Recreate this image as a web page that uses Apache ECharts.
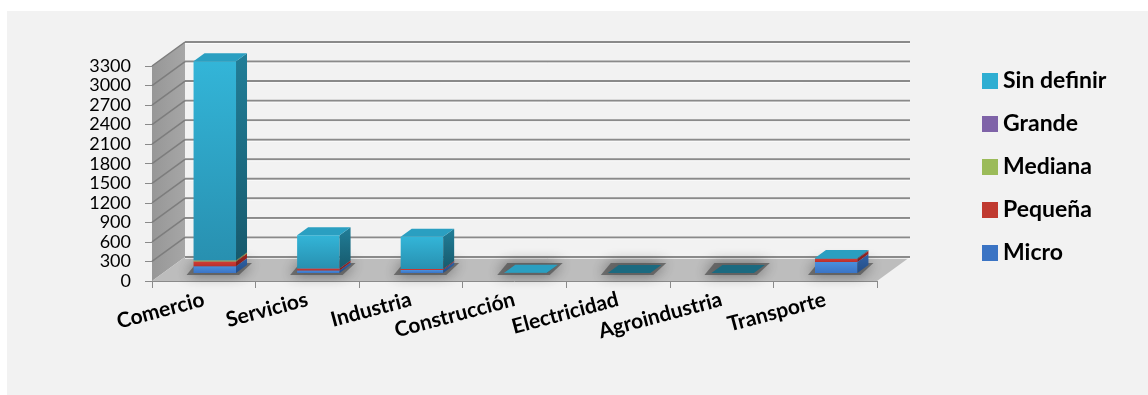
<!DOCTYPE html>
<html>
<head>
<meta charset="utf-8">
<script src="https://cdn.jsdelivr.net/npm/echarts@6/dist/echarts.min.js"></script>
<style>
html,body{margin:0;padding:0;background:#ffffff;}
#c{width:1148px;height:395px;}
</style>
</head>
<body>
<div id="c"></div>
<script>
// ---------- data ----------
const categories = ['Comercio', 'Servicios', 'Industria', 'Construcción', 'Electricidad', 'Agroindustria', 'Transporte'];
const micro      = [105, 40, 45, 0, 0, 0, 170];
const pequena    = [70, 30, 15, 0, 0, 0, 50];
const mediana    = [15, 0, 0, 0, 0, 0, 0];
const grande     = [0, 0, 0, 0, 0, 0, 0];
const sinDefinir = [3060, 510, 495, 3, 0, 0, 10];
const yMin = 0, yMax = 3300, yStep = 300;
const seriesNames = ['Micro', 'Pequeña', 'Mediana', 'Grande', 'Sin definir'];
const legendOrder = ['Sin definir', 'Grande', 'Mediana', 'Pequeña', 'Micro'];

// ---------- styling ----------
const FONT = 'Lato, "Open Sans", sans-serif';
const DX = 33, DY = -24;          // depth of the floor / walls
const BAR_OFF = 1 / 3, BAR_DEPTH = 1 / 3, BAR_W = 0.41;
const grad = (a, b) => new echarts.graphic.LinearGradient(0, 0, 0, 1, [{offset: 0, color: a}, {offset: 1, color: b}]);
const styles = {
  'Micro':       {front: ['#4b8fdc', '#3a74c6'], side: ['#2f62a6', '#244d86'], top: '#4f93df', legend: '#3b74c4'},
  'Pequeña':     {front: ['#d23b36', '#b8302c'], side: ['#9c2622', '#7e1e1b'], top: '#d9504a', legend: '#c0392f'},
  'Mediana':     {front: ['#a5c663', '#8eac4f'], side: ['#76903f', '#627a33'], top: '#b0d070', legend: '#9bbb59'},
  'Grande':      {front: ['#8a6eb0', '#735a98'], side: ['#5f4a7e', '#4d3c67'], top: '#977cbd', legend: '#7f63a8'},
  'Sin definir': {front: ['#33b5d8', '#2890b0'], side: ['#217e98', '#175a6d'], top: '#2a9fc1', legend: '#2eaed2'}
};
const seriesValues = [micro, pequena, mediana, grande, sinDefinir];
const totals = categories.map((_, i) => seriesValues.reduce((s, arr) => s + arr[i], 0));

// ---------- decor (walls, floor, gridlines, shadows) ----------
function renderDecor(params, api) {
  const band = api.size([1, 0])[0];
  const x0 = api.coord([0, 0])[0] - band / 2;
  const x1 = api.coord([categories.length - 1, 0])[0] + band / 2;
  const yv = v => api.coord([0, v])[1];
  const y0 = yv(yMin), yT = yv(yMax);
  const ch = [];
  ch.push({type: 'polygon', shape: {points: [[x0, y0], [x0, yT], [x0 + DX, yT + DY], [x0 + DX, y0 + DY]]},
    style: {fill: new echarts.graphic.LinearGradient(0, 0, 1, 0, [{offset: 0, color: '#979797'}, {offset: 1, color: '#a6a6a6'}])}});
  ch.push({type: 'polygon', shape: {points: [[x0, y0], [x1, y0], [x1 + DX, y0 + DY], [x0 + DX, y0 + DY]]},
    style: {fill: '#bdbdbd'}});
  for (let v = yMin; v <= yMax + 1e-6; v += yStep) {
    const y = yv(v);
    ch.push({type: 'line', shape: {x1: x0 + DX, y1: y + DY, x2: x1 + DX, y2: y + DY},
      style: {stroke: '#8a8a8a', lineWidth: 2}});
    ch.push({type: 'line', shape: {x1: x0 + DX, y1: y + DY + 1.5, x2: x1 + DX, y2: y + DY + 1.5},
      style: {stroke: '#ffffff', lineWidth: 1, opacity: 0.7}});
    if (v > yMin) {
      ch.push({type: 'line', shape: {x1: x0, y1: y, x2: x0 + DX, y2: y + DY},
        style: {stroke: '#7d7d7d', lineWidth: 1.5}});
    }
  }
  // soft shadows on the floor under each bar
  for (let i = 0; i < categories.length; i++) {
    const c = api.coord([i, 0]);
    const w = band * BAR_W;
    const xl = c[0] + DX * BAR_OFF - w / 2, yb = c[1] + DY * BAR_OFF;
    const dx = DX * BAR_DEPTH, dy = DY * BAR_DEPTH;
    ch.push({type: 'polygon', shape: {points: [[xl - 7, yb + 2], [xl + w + 3, yb + 2], [xl + w + dx + 5, yb + dy - 2], [xl + dx - 8, yb + dy - 2]]},
      style: {fill: 'rgba(80,80,80,0.7)', shadowBlur: 14, shadowColor: 'rgba(40,40,40,0.85)'}});
  }
  return {type: 'group', children: ch};
}

// ---------- 3D-ish bar segments ----------
function makeRender(name, isTop) {
  const st = styles[name];
  return function (params, api) {
    const cat = api.value(0), base = api.value(1), val = api.value(2);
    const band = api.size([1, 0])[0];
    const w = band * BAR_W;
    const b = api.coord([cat, base]);
    const t = api.coord([cat, base + val]);
    const ox = DX * BAR_OFF, oy = DY * BAR_OFF, dx = DX * BAR_DEPTH, dy = DY * BAR_DEPTH;
    const xl = b[0] + ox - w / 2, xr = xl + w, yb = b[1] + oy, yt = t[1] + oy;
    const ch = [];
    if (val <= 0) {
      if (isTop && totals[cat] === 0) {
        ch.push({type: 'polygon', shape: {points: [[xl, yb], [xr, yb], [xr + dx, yb + dy], [xl + dx, yb + dy]]},
          style: {fill: '#1b6a80'}});
        return {type: 'group', children: ch};
      }
      return null;
    }
    ch.push({type: 'rect', shape: {x: xl, y: yt, width: w, height: yb - yt}, style: {fill: grad(st.front[0], st.front[1])}});
    ch.push({type: 'polygon', shape: {points: [[xr, yb], [xr, yt], [xr + dx, yt + dy], [xr + dx, yb + dy]]},
      style: {fill: grad(st.side[0], st.side[1])}});
    ch.push({type: 'polygon', shape: {points: [[xl, yt], [xr, yt], [xr + dx, yt + dy], [xl + dx, yt + dy]]},
      style: {fill: st.top}});
    return {type: 'group', children: ch};
  };
}

const cum = categories.map(() => 0);
const barSeries = seriesNames.map((name, k) => {
  const arr = seriesValues[k];
  const data = arr.map((v, i) => { const d = [i, cum[i], v]; cum[i] += v; return d; });
  return {
    name: name, type: 'custom', coordinateSystem: 'cartesian2d',
    renderItem: makeRender(name, k === seriesNames.length - 1),
    itemStyle: {color: styles[name].legend},
    encode: {x: 0, y: 2},
    data: data, z: 3
  };
});

const chart = echarts.init(document.getElementById('c'), null, {renderer: 'canvas'});
chart.setOption({
  animation: false,
  backgroundColor: '#ffffff',
  graphic: [{type: 'rect', left: 7, top: 11, shape: {width: 1141, height: 384}, style: {fill: '#f2f2f2'}, z: -10, silent: true}],
  grid: {left: 152, top: 66, width: 725, height: 215},
  xAxis: {
    type: 'category', data: categories,
    axisLine: {show: true, lineStyle: {color: '#8a8a8a', width: 1}},
    axisTick: {show: true, length: 7, lineStyle: {color: '#8a8a8a'}},
    axisLabel: {interval: 0, rotate: 15, margin: 18, fontFamily: FONT, fontWeight: 'bold', fontSize: 21, color: '#000'},
    splitLine: {show: false}
  },
  yAxis: {
    type: 'value', min: yMin, max: yMax, interval: yStep,
    axisLine: {show: true, lineStyle: {color: '#8a8a8a', width: 1}},
    axisTick: {show: true, length: 7, lineStyle: {color: '#8a8a8a'}},
    axisLabel: {margin: 21, fontFamily: FONT, fontSize: 18, color: '#000', formatter: v => String(v)},
    splitLine: {show: false}
  },
  legend: {
    orient: 'vertical', left: 982, top: 69, padding: 0, itemWidth: 16, itemHeight: 16, itemGap: 19,
    icon: 'rect', data: legendOrder,
    textStyle: {fontFamily: FONT, fontWeight: 'bold', fontSize: 23, lineHeight: 24, color: '#000'}
  },
  series: [{
    name: 'decor', type: 'custom', coordinateSystem: 'cartesian2d', silent: true,
    renderItem: renderDecor, data: [[0, 0]], z: 1
  }].concat(barSeries)
});
</script>
</body>
</html>
